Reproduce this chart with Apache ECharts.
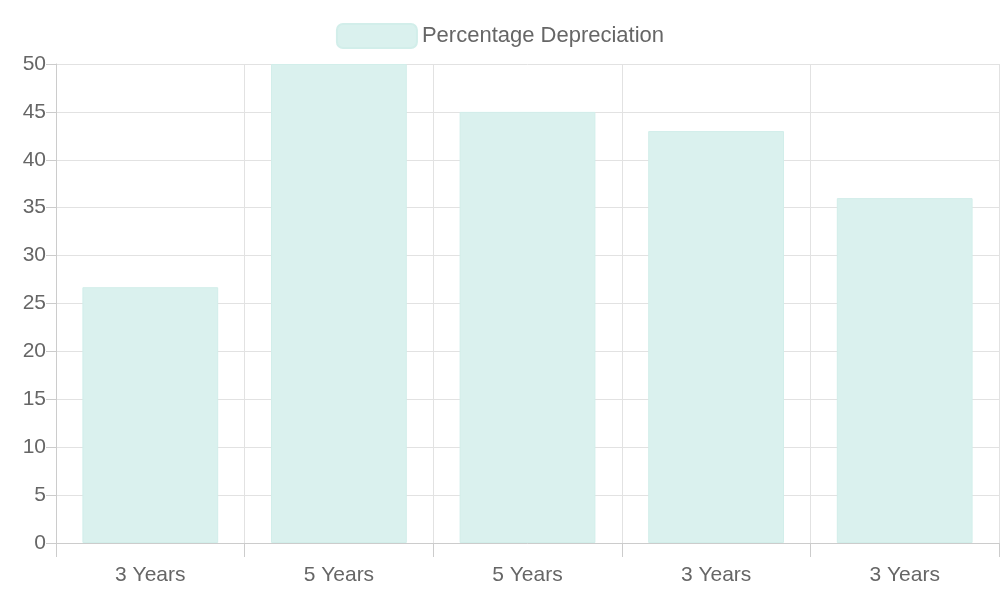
<!DOCTYPE html>
<html><head><meta charset="utf-8">
<script src="https://cdn.jsdelivr.net/npm/echarts@6/dist/echarts.min.js"></script>
<style>html,body{margin:0;padding:0;background:#fff}#c{width:1000px;height:600px}</style>
</head><body><div id="c"></div>
<script>
const categories = ['3 Years','5 Years','5 Years','3 Years','3 Years'];
const values = [26.7, 50, 45, 43, 36];
const seriesName = 'Percentage Depreciation';
const chart = echarts.init(document.getElementById('c'));
chart.setOption({
  animation:false,
  textStyle:{fontFamily:'Liberation Sans, Arial, sans-serif'},
  legend:{top:18,left:'center',itemWidth:80,itemHeight:24,itemGap:12,
    textStyle:{fontSize:22,color:'#666'},data:[seriesName]},
  grid:{left:56,right:1,top:64,bottom:57},
  xAxis:{type:'category',data:categories,
    axisLine:{lineStyle:{color:'#ccc'}},
    axisTick:{show:true,length:14,lineStyle:{color:'#ccc'}},
    axisLabel:{fontSize:21,color:'#666',margin:22},
    splitLine:{show:true,lineStyle:{color:'#e2e2e2'}}},
  yAxis:{type:'value',min:0,max:50,interval:5,
    axisLine:{show:true,lineStyle:{color:'#ccc'}},
    axisTick:{show:true,length:10,lineStyle:{color:'#ccc'}},
    axisLabel:{fontSize:21,color:'#666',margin:10},
    splitLine:{lineStyle:{color:'#e2e2e2'}}},
  series:[{name:seriesName,type:'bar',data:values,barCategoryGap:'28%',
    itemStyle:{color:'#daf1ee',borderColor:'#d2eeea',borderWidth:1}}]
});
</script></body></html>
